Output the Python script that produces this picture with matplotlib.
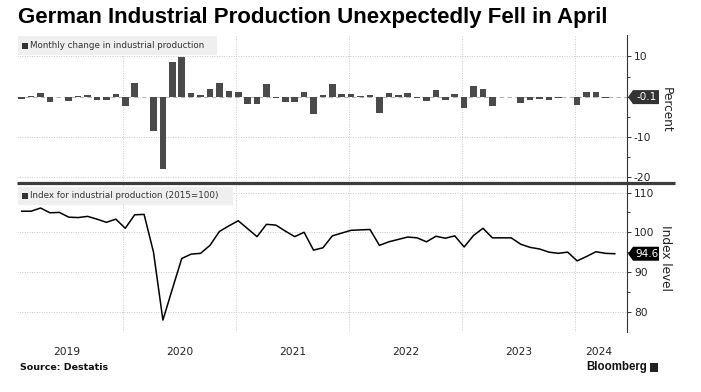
import numpy as np
import matplotlib
matplotlib.use('Agg')
import matplotlib.pyplot as plt
import matplotlib.transforms as mtransforms
from matplotlib.patches import Polygon, Rectangle
from matplotlib.lines import Line2D

plt.rcParams['font.family'] = ['DejaVu Sans']
plt.rcParams['axes.unicode_minus'] = False

# ---------------- data ----------------
months = [f"{y}-{m:02d}" for y in range(2019, 2025) for m in range(1, 13)][:64]

mom_change = [
    -0.6, 0.1, 1.0, -1.2, 0.0, -1.1, 0.1, 0.4, -0.8, -0.8, 0.7, -2.2,      # 2019
    3.4, 0.0, -8.4, -18.0, 8.7, 9.9, 0.9, 0.3, 1.9, 3.4, 1.4, 1.2,          # 2020
    -1.9, -1.7, 3.2, -0.3, -1.2, -1.4, 1.2, -4.4, 0.5, 3.2, 0.7, 0.7,       # 2021
    0.1, 0.3, -4.0, 0.9, 0.4, 0.9, -0.3, -1.1, 1.7, -0.7, 0.7, -2.8,        # 2022
    2.7, 1.8, -2.2, 0.0, 0.0, -1.5, -0.7, -0.5, -0.75, -0.3, 0.0, -2.0,     # 2023
    1.2, 1.1, -0.3, -0.1,                                                   # 2024
]

index_level = [
    105.3, 105.3, 106.1, 104.9, 105.0, 103.8, 103.7, 104.0, 103.3, 102.5, 103.3, 101.0,
    104.4, 104.5, 95.0, 77.9, 85.7, 93.4, 94.5, 94.7, 96.7, 100.2, 101.6, 102.9,
    100.9, 98.9, 102.0, 101.8, 100.3, 98.9, 100.0, 95.5, 96.1, 99.1, 99.8, 100.5,
    100.6, 100.7, 96.7, 97.6, 98.2, 98.8, 98.6, 97.6, 99.0, 98.5, 99.1, 96.3,
    99.2, 101.0, 98.6, 98.6, 98.6, 97.0, 96.2, 95.8, 95.0, 94.7, 95.0, 92.8,
    93.9, 95.1, 94.7, 94.6,
]

year_labels = ['2019', '2020', '2021', '2022', '2023', '2024']
year_label_pos = [4.75, 16.75, 28.75, 40.75, 52.75, 61.3]
year_bounds = [10.75, 22.75, 34.75, 46.75, 58.75]

title = "German Industrial Production Unexpectedly Fell in April"
top_legend = "Monthly change in industrial production"
bot_legend = "Index for industrial production (2015=100)"
last_change_label = "-0.1"
last_index_label = "94.6"

# ---------------- layout ----------------
W, H = 701, 392
fig = plt.figure(figsize=(W / 100, H / 100), dpi=100)
fig.patch.set_facecolor('white')


def fx(px):
    return px / W


def fy(py):
    return 1 - py / H


L, R = 17, 627
TOP1, MID, BOT2 = 35, 183, 332
ax1 = fig.add_axes([fx(L), fy(MID), (R - L) / W, (MID - TOP1) / H])
ax2 = fig.add_axes([fx(L), fy(BOT2), (R - L) / W, (BOT2 - MID) / H])

x = np.arange(len(months))
grid_c = '#c8c8c8'
axis_c = '#333333'

for ax in (ax1, ax2):
    ax.set_xlim(-0.5, 64.3)
    for s in ('left', 'top', 'bottom'):
        ax.spines[s].set_visible(False)
    ax.spines['right'].set_color(axis_c)
    ax.spines['right'].set_linewidth(0.8)
    ax.yaxis.tick_right()
    ax.tick_params(axis='y', which='both', direction='out', length=3, width=0.7,
                   color=axis_c, labelsize=7.7, pad=2, labelcolor='#222222')
    for xb in year_bounds:
        ax.axvline(xb, color=grid_c, lw=0.7, ls=(0, (1, 1.5)), zorder=0)

# ---- top panel: bars ----
ax1.set_ylim(-21.4, 15.3)
ax1.bar(x, mom_change, width=0.7, color='#4a4a4a', zorder=3)
ax1.axhline(0, color='#b5b5b5', lw=0.8, ls=(0, (4, 3)), zorder=1)
for yv in (10, -10, -20):
    ax1.axhline(yv, color=grid_c, lw=0.7, ls=(0, (1, 1.5)), zorder=0)
ax1.set_yticks([-20, -10, 0, 10])
ax1.set_yticklabels(['-20', '-10', '', '10'])
ax1.set_yticks([-15, -5, 5], minor=True)
ax1.tick_params(axis='y', which='minor', length=2)
ax1.set_xticks([])

# ---- bottom panel: line ----
ax2.set_ylim(74.9, 112.4)
ax2.plot(x, index_level, color='black', lw=1.1, zorder=3)
for yv in (110, 100, 90, 80):
    ax2.axhline(yv, color=grid_c, lw=0.7, ls=(0, (1, 1.5)), zorder=0)
ax2.set_yticks([80, 90, 100, 110])
ax2.set_yticks([85, 95, 105], minor=True)
ax2.tick_params(axis='y', which='minor', length=2)
ax2.set_xticks(year_bounds)
ax2.set_xticklabels([])
ax2.set_xticks(year_label_pos, minor=True)
ax2.set_xticklabels(year_labels, minor=True)
ax2.tick_params(axis='x', which='both', length=0, pad=11, labelsize=7.7,
                labelcolor='#222222')

# ---- legend boxes ----
def legend_box(x0, y0, x1, y1, text):
    fig.patches.append(Rectangle((fx(x0), fy(y1)), (x1 - x0) / W, (y1 - y0) / H,
                                 transform=fig.transFigure, facecolor='#efefef',
                                 edgecolor='none', zorder=5))
    fig.patches.append(Rectangle((fx(x0 + 4), fy((y0 + y1) / 2 + 3)), 6 / W, 6 / H,
                                 transform=fig.transFigure, facecolor='#333333',
                                 edgecolor='none', zorder=6))
    fig.text(fx(x0 + 12), fy((y0 + y1) / 2), text, fontsize=6.3, color='#333333',
             ha='left', va='center', zorder=7)


legend_box(18, 36, 217, 55, top_legend)
legend_box(18, 187, 233, 205, bot_legend)

# ---- value tags ----
def value_tag(ax, value, text, color):
    blended = mtransforms.blended_transform_factory(ax.transAxes, ax.transData)
    tr = mtransforms.Affine2D() + mtransforms.ScaledTranslation(1.0, value, blended)
    verts = [(1, 0), (6, 7), (32, 7), (32, -7), (6, -7)]
    poly = Polygon(verts, closed=True, transform=tr, facecolor=color,
                   edgecolor='none', clip_on=False, zorder=10)
    ax.add_patch(poly)
    ax.text(1.0, value, text, transform=mtransforms.offset_copy(blended, fig=fig, x=19.5, y=0, units='dots'),
            color='white', fontsize=7.5, ha='center', va='center', zorder=11, clip_on=False)


value_tag(ax1, mom_change[-1], last_change_label, '#333333')
value_tag(ax2, index_level[-1], last_index_label, '#000000')

# ---- axis titles ----
fig.text(fx(666), fy(110), 'Percent', rotation=270, fontsize=8.7, color='#222222',
         ha='center', va='center')
fig.text(fx(666), fy(258), 'Index level', rotation=270, fontsize=8.7, color='#222222',
         ha='center', va='center')

# ---- separator ----
fig.lines.append(Line2D([fx(17), fx(675)], [fy(183), fy(183)], transform=fig.transFigure,
                        color='#3c3c3c', lw=2.3, solid_capstyle='butt', zorder=8))

# ---- title and footer ----
fig.text(fx(18), fy(18), title, fontsize=16.0, fontweight='bold',
         family=['Liberation Sans', 'DejaVu Sans'], color='#000000', ha='left', va='center')
fig.text(fx(20), fy(367), 'Source: Destatis', fontsize=6.8, fontweight='bold',
         color='#111111', ha='left', va='center')
fig.text(fx(647), fy(367), 'Bloomberg', fontsize=8.3, fontweight='bold',
         family=['Liberation Sans', 'DejaVu Sans'], color='#111111', ha='right', va='center')
fig.patches.append(Rectangle((fx(650), fy(372)), 8 / W, 9 / H, transform=fig.transFigure,
                             facecolor='#222222', edgecolor='none'))

fig.savefig('out.png', dpi=100, facecolor='white')
